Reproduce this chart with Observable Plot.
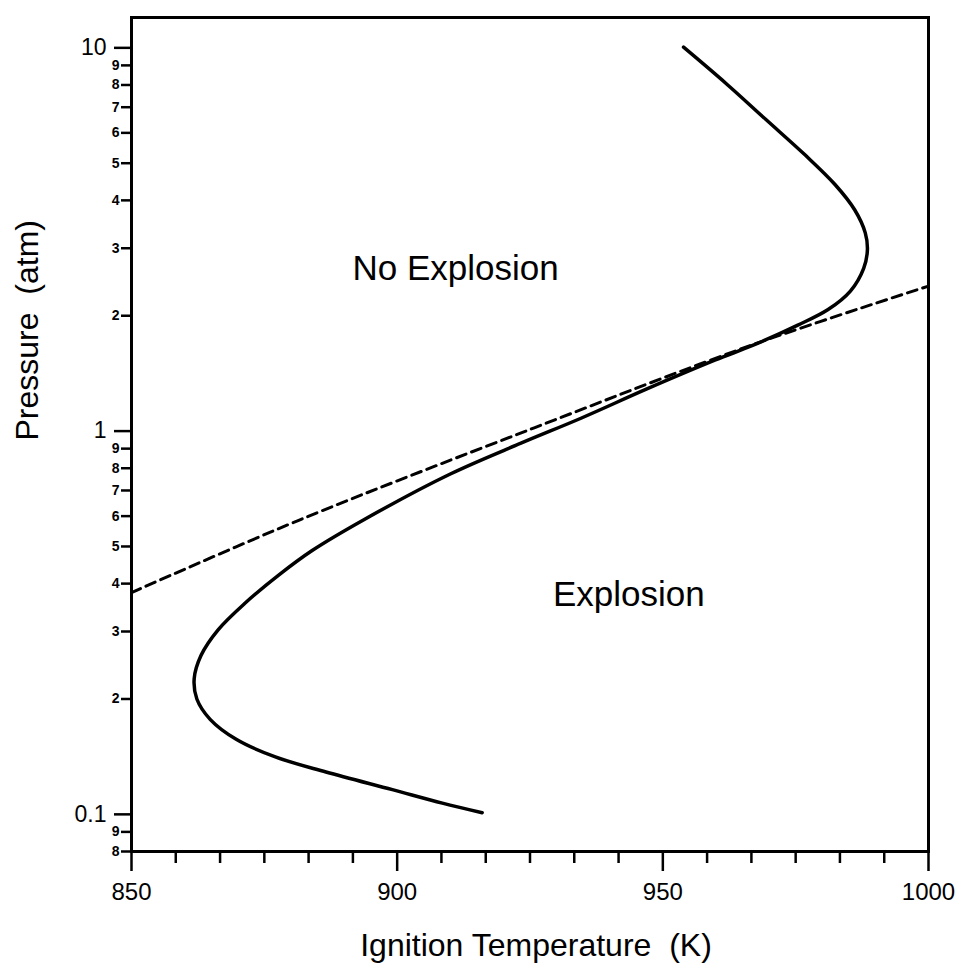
<!DOCTYPE html>
<html>
<head>
<meta charset="utf-8">
<script src="https://cdn.jsdelivr.net/npm/d3@7"></script>
<script src="https://cdn.jsdelivr.net/npm/@observablehq/plot@0.6"></script>
<style>
  html, body { margin: 0; padding: 0; background: #fff; }
</style>
</head>
<body>
<div id="chart"></div>
<script>
// ---- data ----
const curveT = [953.9, 962.0, 969.4, 976.8, 982.4, 986.1, 988.1, 988.5, 987.8, 985.3, 981.1, 975.4, 966.9, 959.9, 947.0, 934.7, 923.3, 910.0, 893.9, 884.0, 877.7, 871.4, 866.3, 863.1, 861.8, 862.3, 864.8, 869.7, 877.2, 886.6, 899.1, 908.5, 916.0];
const curveP = [10.04, 8.05, 6.50, 5.25, 4.40, 3.78, 3.29, 2.97, 2.66, 2.32, 2.076, 1.89, 1.673, 1.533, 1.288, 1.082, 0.930, 0.773, 0.589, 0.488, 0.421, 0.356, 0.303, 0.260, 0.226, 0.200, 0.177, 0.157, 0.141, 0.129, 0.116, 0.107, 0.101];

const dashT = [850, 881.7, 925.8, 966.9, 1000];
const dashP = [0.379, 0.587, 1.02, 1.68, 2.39];

const regionLabels = ["No Explosion", "Explosion"];
const regionT = [911, 943.6];
const regionP = [2.65, 0.374];

const xMajorTicks = [850, 900, 950, 1000];
const xMinorTicks = [858.33, 866.67, 875, 883.33, 891.67, 908.33, 916.67, 925, 933.33, 941.67, 958.33, 966.67, 975, 983.33, 991.67];
const yMajorTicks = [0.1, 1, 10];
const yMajorLabels = ["0.1", "1", "10"];
const yMinorTicks = [0.08, 0.09, 0.2, 0.3, 0.4, 0.5, 0.6, 0.7, 0.8, 0.9, 2, 3, 4, 5, 6, 7, 8, 9];
const yMinorLabels = ["8", "9", "2", "3", "4", "5", "6", "7", "8", "9", "2", "3", "4", "5", "6", "7", "8", "9"];

const xTitle = "Ignition Temperature\u00A0 (K)";
const yTitle = "Pressure\u00A0 (atm)";

// ---- tables built from the arrays ----
const curve = curveT.map((t, i) => ({T: t, P: curveP[i]}));
const dashed = dashT.map((t, i) => ({T: t, P: dashP[i]}));
const regions = regionLabels.map((s, i) => ({label: s, T: regionT[i], P: regionP[i]}));
const yMajor = yMajorTicks.map((v, i) => ({v, label: yMajorLabels[i]}));
const yMinor = yMinorTicks.map((v, i) => ({v, label: yMinorLabels[i]}));

const font = "'Liberation Sans', Arial, Helvetica, sans-serif";

const chart = Plot.plot({
  width: 964,
  height: 969,
  marginLeft: 131,
  marginRight: 36,
  marginTop: 17,
  marginBottom: 118,
  style: {fontFamily: font, color: "#000", background: "#fff", overflow: "visible"},
  x: {domain: [850, 1000]},
  y: {type: "log", domain: [0.08, 12]},
  marks: [
    Plot.axisX({ticks: xMajorTicks, tickSize: 20, tickPadding: 11, fontSize: 24, strokeWidth: 2.5, label: null, tickFormat: d => String(d)}),
    Plot.axisX({ticks: xMinorTicks, tickSize: 12, strokeWidth: 2.5, label: null, tickFormat: () => ""}),
    Plot.axisY({ticks: yMajorTicks, tickSize: 17, strokeWidth: 2.5, label: null, tickFormat: () => ""}),
    Plot.axisY({ticks: yMinorTicks, tickSize: 10, strokeWidth: 2.5, label: null, tickFormat: () => ""}),
    Plot.text(yMajor, {y: "v", text: "label", frameAnchor: "left", dx: -25, textAnchor: "end", lineAnchor: "middle", fontSize: 23, fill: "#000"}),
    Plot.text(yMinor, {y: "v", text: "label", frameAnchor: "left", dx: -12, textAnchor: "end", lineAnchor: "middle", fontSize: 14, fontWeight: "bold", fill: "#000"}),
    Plot.frame({stroke: "#000", strokeWidth: 3}),
    Plot.line(dashed, {x: "T", y: "P", stroke: "#000", strokeWidth: 3, strokeDasharray: "10,6", curve: "catmull-rom"}),
    Plot.line(curve, {x: "T", y: "P", stroke: "#000", strokeWidth: 3.5, curve: "catmull-rom"}),
    Plot.text(regions, {x: "T", y: "P", text: "label", fontSize: 35, textAnchor: "middle", lineAnchor: "middle", fill: "#000"}),
    Plot.text([xTitle], {text: d => d, frameAnchor: "bottom", dy: 94, dx: 6, fontSize: 32, lineAnchor: "middle", fill: "#000"}),
    Plot.text([yTitle], {text: d => d, frameAnchor: "left", dx: -104, dy: 6, rotate: -90, fontSize: 32, lineAnchor: "middle", fill: "#000"})
  ]
});

document.getElementById("chart").appendChild(chart);
</script>
</body>
</html>
